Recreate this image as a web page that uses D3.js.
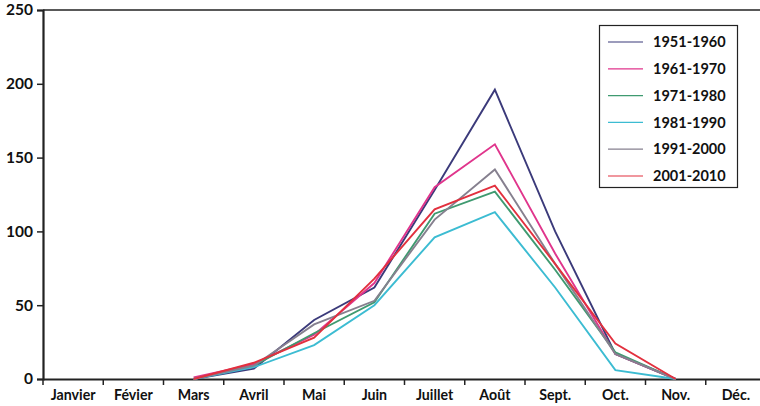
<!DOCTYPE html>
<html><head><meta charset="utf-8">
<script src="https://cdn.jsdelivr.net/npm/d3@7"></script>
<style>body{margin:0;background:#fff}svg{display:block}text{font-family:Lato,"Open Sans",sans-serif;fill:#111}</style>
</head><body><svg id="c" width="760" height="406"></svg>
<script>
const months = ["Janvier","Févier","Mars","Avril","Mai","Juin","Juillet","Août","Sept.","Oct.","Nov.","Déc."];
const yTicks = [0,50,100,150,200,250];
const seriesNames = ["1951-1960","1961-1970","1971-1980","1981-1990","1991-2000","2001-2010"];
const colors = ["#3b3a7a","#e0358c","#3f9a70","#3cbcd2","#86808f","#e2303e"];
// values Janvier..Déc. (null = no data)
const s1951 = [null,null,0,7,40,62,128,196,100,17,0,null];
const s1961 = [null,null,1,10,30,65,130,159,85,17,0,null];
const s1971 = [null,null,0,9,31,52,112,127,74,18,0,null];
const s1981 = [null,null,0,8,23,50,96,113,62,6,0,null];
const s1991 = [null,null,0,9,37,53,108,142,78,17,0,null];
const s2001 = [null,null,0,11,28,68,115,131,78,24,0,null];
const allSeries = [s1951,s1961,s1971,s1981,s1991,s2001];

(function(){
const svg = d3.select("#c");
const mL = 43, mR = 766, mT = 10, mB = 379;
const x = d3.scaleBand().domain(months).range([mL, mR]);
const y = d3.scaleLinear().domain([0,250]).range([mB, mT]);

svg.append("line").attr("x1",mL).attr("x2",760).attr("y1",mT).attr("y2",mT)
  .attr("stroke","#222").attr("stroke-width",1.5);

const yAxis = svg.append("g").attr("transform",`translate(${mL},0)`)
  .call(d3.axisLeft(y).tickValues(yTicks).tickSize(6).tickPadding(4).tickFormat(d3.format("d")));
yAxis.select(".domain").attr("stroke","#222").attr("stroke-width",2.2);
yAxis.selectAll(".tick line").attr("stroke","#222").attr("stroke-width",1.5);
yAxis.selectAll("text").attr("font-size",15.5).attr("font-weight","bold").attr("font-family","Lato");

const xAxis = svg.append("g").attr("transform",`translate(0,${mB})`)
  .call(d3.axisBottom(x).tickSize(0).tickPadding(11));
xAxis.select(".domain").attr("stroke","#222").attr("stroke-width",2.2);
xAxis.selectAll("text").attr("font-size",14.2).attr("font-weight","bold").attr("font-family","Lato");
xAxis.selectAll(".bt").data(months).enter().append("line")
  .attr("x1",d=>x(d)).attr("x2",d=>x(d)).attr("y1",0).attr("y2",6)
  .attr("stroke","#222").attr("stroke-width",1.5);

const line = d3.line().defined(d=>d.v!==null)
  .x(d=>x(d.m)+x.bandwidth()/2).y(d=>y(d.v));
allSeries.forEach((s,i)=>{
  svg.append("path").datum(s.map((v,j)=>({m:months[j],v})))
    .attr("d",line).attr("fill","none").attr("stroke",colors[i])
    .attr("stroke-width",1.9).attr("stroke-linejoin","miter");
});

const lg = svg.append("g");
lg.append("rect").attr("x",599.5).attr("y",25.5).attr("width",138).attr("height",162)
  .attr("fill","#fff").attr("stroke","#222").attr("stroke-width",1.2);
seriesNames.forEach((n,i)=>{
  const yy = 42 + i*26.8;
  lg.append("line").attr("x1",608).attr("x2",643).attr("y1",yy).attr("y2",yy)
    .attr("stroke",colors[i]).attr("stroke-width",1.2);
  lg.append("text").attr("x",653).attr("y",yy).attr("dy","0.36em")
    .attr("font-size",14.5).attr("font-weight","bold").text(n);
});
})();
</script></body></html>
